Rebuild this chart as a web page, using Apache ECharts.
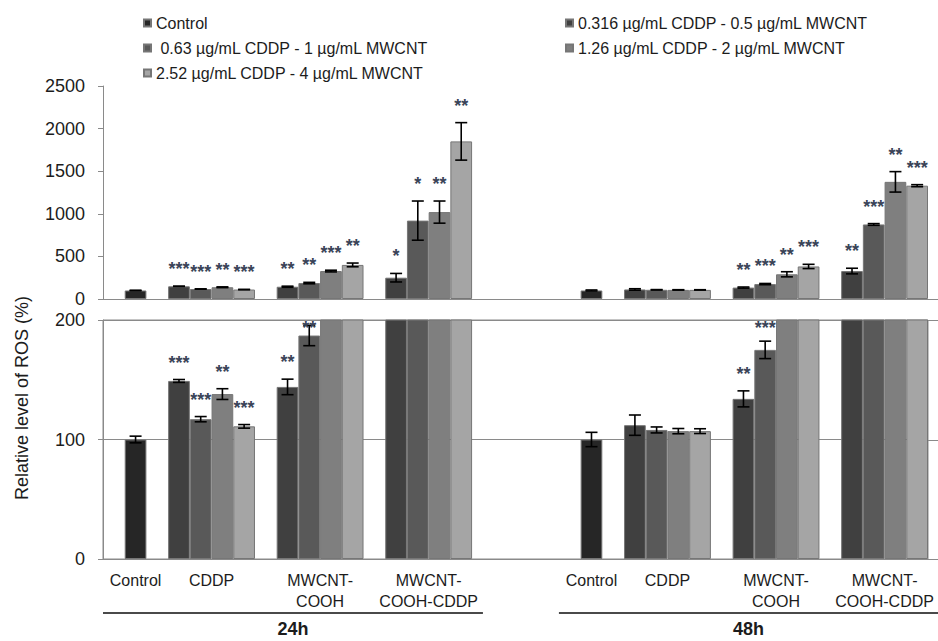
<!DOCTYPE html>
<html>
<head>
<meta charset="utf-8">
<script src="https://cdn.jsdelivr.net/npm/echarts@6/dist/echarts.min.js"></script>
<style>
  html, body { margin: 0; padding: 0; background: #fff; }
  #chart { width: 938px; height: 641px; }
</style>
</head>
<body>
<div id="chart"></div>
<script>
// ---- data -------------------------------------------------------------
const groupNames = ['Control', 'CDDP', 'MWCNT-\nCOOH', 'MWCNT-\nCOOH-CDDP'];
const timePoints = ['24h', '48h'];

const doseNames = [
  'Control',
  '0.316 µg/mL CDDP - 0.5 µg/mL MWCNT',
  ' 0.63 µg/mL CDDP - 1 µg/mL MWCNT',
  '1.26 µg/mL CDDP - 2 µg/mL MWCNT',
  '2.52 µg/mL CDDP - 4 µg/mL MWCNT'
];

// tick labels of the upper (full range) and lower (zoomed) panels
const upperTicks = [0, 500, 1000, 1500, 2000, 2500];
const lowerTicks = [0, 100, 200];

// 24 h — relative ROS level (%), SD, significance
const control24 = 100, control24Err = 2.8;
const cddp24 = [149, 117, 138, 111];
const cddp24Err = [1.2, 2.2, 4.5, 1.5];
const cddp24Sig = ['***', '***', '**', '***'];
const cooh24 = [144, 187, 328, 400];
const cooh24Err = [6.5, 8.5, 10, 22];
const cooh24Sig = ['**', '**', '***', '**'];
const coohCddp24 = [250, 920, 1020, 1850];
const coohCddp24Err = [50, 230, 130, 220];
const coohCddp24Sig = ['*', '*', '**', '**'];

// 48 h
const control48 = 100, control48Err = 6;
const cddp48 = [112, 108, 107, 107];
const cddp48Err = [8.5, 2.5, 2.2, 2];
const cddp48Sig = ['', '', '', ''];
const cooh48 = [134, 175, 290, 382];
const cooh48Err = [6.7, 7.3, 30, 25];
const cooh48Sig = ['**', '***', '**', '***'];
const coohCddp48 = [328, 875, 1375, 1330];
const coohCddp48Err = [33, 10, 120, 12];
const coohCddp48Sig = ['**', '***', '**', '***'];

// ---- layout of bar slots along the category axis -----------------------
const LEAD_SLOTS = 1;      // empty slot before the first bar
const GROUP_GAP = 1;       // empty slot between treatment groups
const TIME_GAP = 5;        // empty slots between the two time points
const BARS_PER_GROUP = 4;

const timeBlocks = [
  { control: control24, controlErr: control24Err,
    groups: [[cddp24, cddp24Err, cddp24Sig], [cooh24, cooh24Err, cooh24Sig], [coohCddp24, coohCddp24Err, coohCddp24Sig]] },
  { control: control48, controlErr: control48Err,
    groups: [[cddp48, cddp48Err, cddp48Sig], [cooh48, cooh48Err, cooh48Sig], [coohCddp48, coohCddp48Err, coohCddp48Sig]] }
];

// assign slot indices
let slot = LEAD_SLOTS;
const layout = [];
timeBlocks.forEach((tb, ti) => {
  const block = { controlSlot: slot, groupSlots: [] };
  slot += 1 + GROUP_GAP;
  tb.groups.forEach(() => {
    const s = [];
    for (let k = 0; k < BARS_PER_GROUP; k++) s.push(slot + k);
    block.groupSlots.push(s);
    slot += BARS_PER_GROUP + GROUP_GAP;
  });
  block.lastSlot = slot - GROUP_GAP - 1;
  layout.push(block);
  if (ti < timeBlocks.length - 1) slot += TIME_GAP - GROUP_GAP;
});
const slotCount = layout[layout.length - 1].lastSlot + 1;
const slotLabels = new Array(slotCount).fill('');

// per-series bar data, and error-bar items
const barData = doseNames.map(() => new Array(slotCount).fill(null));
const errItems = [];
timeBlocks.forEach((tb, ti) => {
  const L = layout[ti];
  barData[0][L.controlSlot] = tb.control;
  errItems.push({ slot: L.controlSlot, value: tb.control, err: tb.controlErr, sig: '' });
  tb.groups.forEach((g, gi) => {
    const [vals, errs, sigs] = g;
    vals.forEach((v, k) => {
      const s = L.groupSlots[gi][k];
      barData[k + 1][s] = v;
      errItems.push({ slot: s, value: v, err: errs[k], sig: sigs[k] });
    });
  });
});

// ---- styling ----------------------------------------------------------
const FONT = '"Liberation Sans", Arial, Helvetica, sans-serif';
const AXIS_GREY = '#8a8a8a';
const TEXT = '#1c1c1c';
const STAR = '#3a4458';
const barColors = ['#262626', '#404040', '#595959', '#7f7f7f', '#a5a5a5'];

const GRID_LEFT = 103, GRID_RIGHT = 10;
const upperMax = upperTicks[upperTicks.length - 1];
const lowerMax = lowerTicks[lowerTicks.length - 1];

function errorRenderer(yMax) {
  return function (params, api) {
    const it = errItems[params.dataIndex];
    if (it.value > yMax) return null;
    const top = api.coord([it.slot, it.value + it.err]);
    const bot = api.coord([it.slot, Math.max(it.value - it.err, 0)]);
    const cs = params.coordSys;
    const hw = 6;
    const ls = { stroke: '#000', lineWidth: 1.6 };
    const children = [
      { type: 'line', shape: { x1: top[0], y1: top[1], x2: bot[0], y2: bot[1] }, style: ls },
      { type: 'line', shape: { x1: top[0] - hw, y1: top[1], x2: top[0] + hw, y2: top[1] }, style: ls },
      { type: 'line', shape: { x1: bot[0] - hw, y1: bot[1], x2: bot[0] + hw, y2: bot[1] }, style: ls }
    ];
    if (it.sig) {
      const ty = Math.max(top[1] - 17, cs.y + 8);
      children.push({
        type: 'text',
        style: { text: it.sig, x: top[0], y: ty, align: 'center', verticalAlign: 'middle',
                 font: 'bold 18px ' + FONT, fill: STAR }
      });
    }
    return { type: 'group', children };
  };
}

const barSeries = [];
[0, 1].forEach(gridIdx => {
  doseNames.forEach((name, k) => {
    barSeries.push({
      name, type: 'bar', xAxisIndex: gridIdx, yAxisIndex: gridIdx,
      data: barData[k], barGap: '-100%', barCategoryGap: '0%', clip: true,
      itemStyle: { color: barColors[k], borderColor: '#767676', borderWidth: 1 },
      emphasis: { disabled: true }, silent: true
    });
  });
});

const errSeries = [upperMax, lowerMax].map((yMax, gridIdx) => ({
  type: 'custom', xAxisIndex: gridIdx, yAxisIndex: gridIdx, z: 5,
  data: errItems.map(it => [it.slot, it.value]),
  renderItem: errorRenderer(yMax), silent: true
}));

const legendCommon = {
  orient: 'vertical', top: 13, padding: 0, itemWidth: 7, itemHeight: 7, itemGap: 5, icon: 'rect',
  selectedMode: false,
  textStyle: { fontFamily: FONT, fontSize: 16, color: TEXT, lineHeight: 20 }
};

const plainNumber = v => String(v);

const option = {
  animation: false,
  backgroundColor: '#fff',
  legend: [
    Object.assign({}, legendCommon, { left: 143, data: [doseNames[0], doseNames[2], doseNames[4]] }),
    Object.assign({}, legendCommon, { left: 565, data: [doseNames[1], doseNames[3]] })
  ],
  grid: [
    { left: GRID_LEFT, right: GRID_RIGHT, top: 86, height: 213, containLabel: false, outerBoundsMode: 'none' },
    { left: GRID_LEFT, right: GRID_RIGHT, top: 320, height: 239, containLabel: false, outerBoundsMode: 'none',
      show: true, borderColor: AXIS_GREY, borderWidth: 1, backgroundColor: 'transparent' }
  ],
  xAxis: [0, 1].map(i => ({
    type: 'category', gridIndex: i, data: slotLabels, boundaryGap: true,
    axisLine: { show: true, lineStyle: { color: AXIS_GREY, width: 1 } },
    axisTick: { show: false }, axisLabel: { show: false }, splitLine: { show: false }
  })),
  yAxis: [
    { type: 'value', gridIndex: 0, min: upperTicks[0], max: upperMax, interval: upperTicks[1] - upperTicks[0],
      axisLine: { show: true, lineStyle: { color: AXIS_GREY, width: 1 } },
      axisTick: { show: true, length: 5, lineStyle: { color: AXIS_GREY } },
      splitLine: { show: false },
      axisLabel: { fontFamily: FONT, fontSize: 18, color: TEXT, margin: 18, formatter: plainNumber } },
    { type: 'value', gridIndex: 1, min: lowerTicks[0], max: lowerMax, interval: lowerTicks[1] - lowerTicks[0],
      axisLine: { show: true, lineStyle: { color: AXIS_GREY, width: 1 } },
      axisTick: { show: true, length: 5, lineStyle: { color: AXIS_GREY } },
      splitLine: { show: true, lineStyle: { color: AXIS_GREY, width: 1 } },
      axisLabel: { fontFamily: FONT, fontSize: 18, color: TEXT, margin: 18, formatter: plainNumber } }
  ],
  series: barSeries.concat(errSeries)
};

const chart = echarts.init(document.getElementById('chart'), null, { renderer: 'svg' });
chart.setOption(option);

// ---- group labels, time-point brackets, axis title -----------------------
const px = s => chart.convertToPixel({ xAxisIndex: 1 }, s);
const band = px(1) - px(0);
const W = chart.getWidth();
const gridRightX = W - GRID_RIGHT;
const graphics = [];

layout.forEach((L, ti) => {
  const centers = [px(L.controlSlot)].concat(L.groupSlots.map(s => (px(s[0]) + px(s[s.length - 1])) / 2));
  centers.forEach((cx, gi) => {
    graphics.push({ type: 'text', x: cx, y: 570, silent: true,
      style: { text: groupNames[gi], font: '16px ' + FONT, fill: TEXT, align: 'center',
               verticalAlign: 'top', lineHeight: 21 } });
  });
  const x1 = ti === 0 ? GRID_LEFT : px(L.controlSlot) - band * 1.5;
  const x2 = ti === layout.length - 1 ? W : px(L.lastSlot + 1);
  graphics.push({ type: 'line', silent: true, shape: { x1, y1: 613, x2, y2: 613 },
    style: { stroke: '#4a4a4a', lineWidth: 2 } });
  graphics.push({ type: 'text', x: (x1 + x2) / 2, y: 629, silent: true,
    style: { text: timePoints[ti], font: 'bold 18px ' + FONT, fill: TEXT, align: 'center', verticalAlign: 'middle' } });
});

// horizontal rules continue to the right edge of the figure
[[0, 0], [1, lowerMax], [1, lowerTicks[1]], [1, 0]].forEach(([ai, v]) => {
  const y = Math.round(chart.convertToPixel({ yAxisIndex: ai }, v)) + 0.5;
  graphics.push({ type: 'line', silent: true, shape: { x1: gridRightX, y1: y, x2: W, y2: y },
    style: { stroke: AXIS_GREY, lineWidth: 1 } });
});

graphics.push({ type: 'text', x: 22, y: 398, rotation: Math.PI / 2, silent: true,
  style: { text: 'Relative level of ROS (%)', font: '18px ' + FONT, fill: TEXT,
           align: 'center', verticalAlign: 'middle' } });

chart.setOption({ graphic: graphics });
</script>
</body>
</html>
